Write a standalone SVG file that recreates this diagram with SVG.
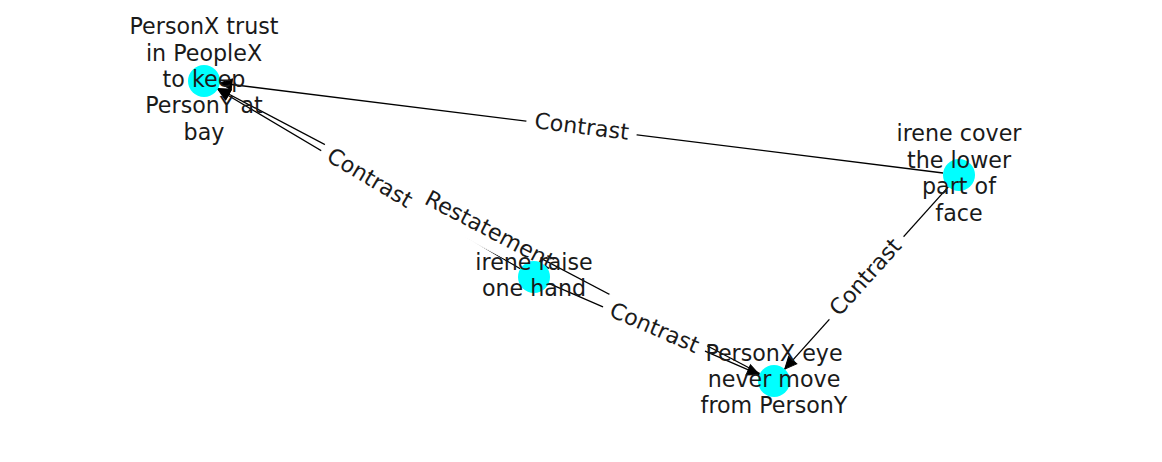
<svg xmlns="http://www.w3.org/2000/svg" width="1162" height="462" viewBox="0 0 1162 462">
<style>
  .edge { stroke:#000; stroke-width:1.3; fill:none; marker-end:url(#arrow); }
  .lblbox { fill:#fff; stroke:#fff; stroke-width:1; }
  text { font-family:"DejaVu Sans", "Liberation Sans", sans-serif; font-size:22.2px; fill:#1a1a1a; text-anchor:middle; }
  .dot { fill:#00ffff; }
</style>
<defs>
  <marker id="arrow" markerUnits="userSpaceOnUse" markerWidth="14" markerHeight="13" refX="12" refY="5.5" orient="auto" overflow="visible">
    <path d="M0,0 L12,5.5 L0,11 Z" fill="#000" stroke="#000" stroke-width="1"/>
  </marker>
</defs>
<rect x="0" y="0" width="1162" height="462" fill="#fff"/>
<g id="connectors">
  <path id="e-B-A" class="edge" d="M943.1,173.0 L219.9,83.0"/>
  <path id="e-C-A" class="edge" d="M520.2,268.8 L217.8,89.2"/>
  <path id="e-D-A" class="edge" d="M759.8,373.5 L218.2,88.5"/>
  <path id="e-C-D" class="edge" d="M548.7,283.4 L759.3,374.6"/>
  <path id="e-B-D" class="edge" d="M948.3,186.9 L784.7,369.1"/>
</g>
<g id="edge-labels">
  <g transform="translate(581.5,128) rotate(7.10)">
    <rect class="lblbox" x="-55" y="-17" width="110" height="34" rx="6"/>
    <text x="0" y="6">Contrast</text>
  </g>
  <g transform="translate(369,179) rotate(30.71)">
    <rect class="lblbox" x="-55" y="-17" width="110" height="34" rx="6"/>
    <text x="0" y="6">Contrast</text>
  </g>
  <g transform="translate(489,231) rotate(27.76)">
    <rect class="lblbox" x="-80" y="-17" width="138" height="34" rx="6"/>
    <text x="0" y="6">Restatement</text>
  </g>
  <g transform="translate(654,329) rotate(23.43)">
    <rect class="lblbox" x="-55" y="-17" width="110" height="34" rx="6"/>
    <text x="0" y="6">Contrast</text>
  </g>
  <g transform="translate(866.5,278) rotate(-48.07)">
    <rect class="lblbox" x="-55" y="-17" width="110" height="34" rx="6"/>
    <text x="0" y="6">Contrast</text>
  </g>
</g>
<g id="node-A">
  <circle class="dot" cx="204" cy="81" r="16"/>
  <text x="204" y="34.2">PersonX trust</text>
  <text x="204" y="60.6">in PeopleX</text>
  <text x="204" y="87">to keep</text>
  <text x="204" y="113.4">PersonY at</text>
  <text x="204" y="139.8">bay</text>
</g>
<g id="node-B">
  <circle class="dot" cx="959" cy="175" r="16"/>
  <text x="959" y="141.4">irene cover</text>
  <text x="959" y="167.8">the lower</text>
  <text x="959" y="194.2">part of</text>
  <text x="959" y="220.6">face</text>
</g>
<g id="node-C">
  <circle class="dot" cx="534" cy="277" r="16"/>
  <text x="534" y="269.8">irene raise</text>
  <text x="534" y="296.2">one hand</text>
</g>
<g id="node-D">
  <circle class="dot" cx="774" cy="381" r="16"/>
  <text x="774" y="360.6">PersonX eye</text>
  <text x="774" y="387">never move</text>
  <text x="774" y="413.4">from PersonY</text>
</g>
</svg>
